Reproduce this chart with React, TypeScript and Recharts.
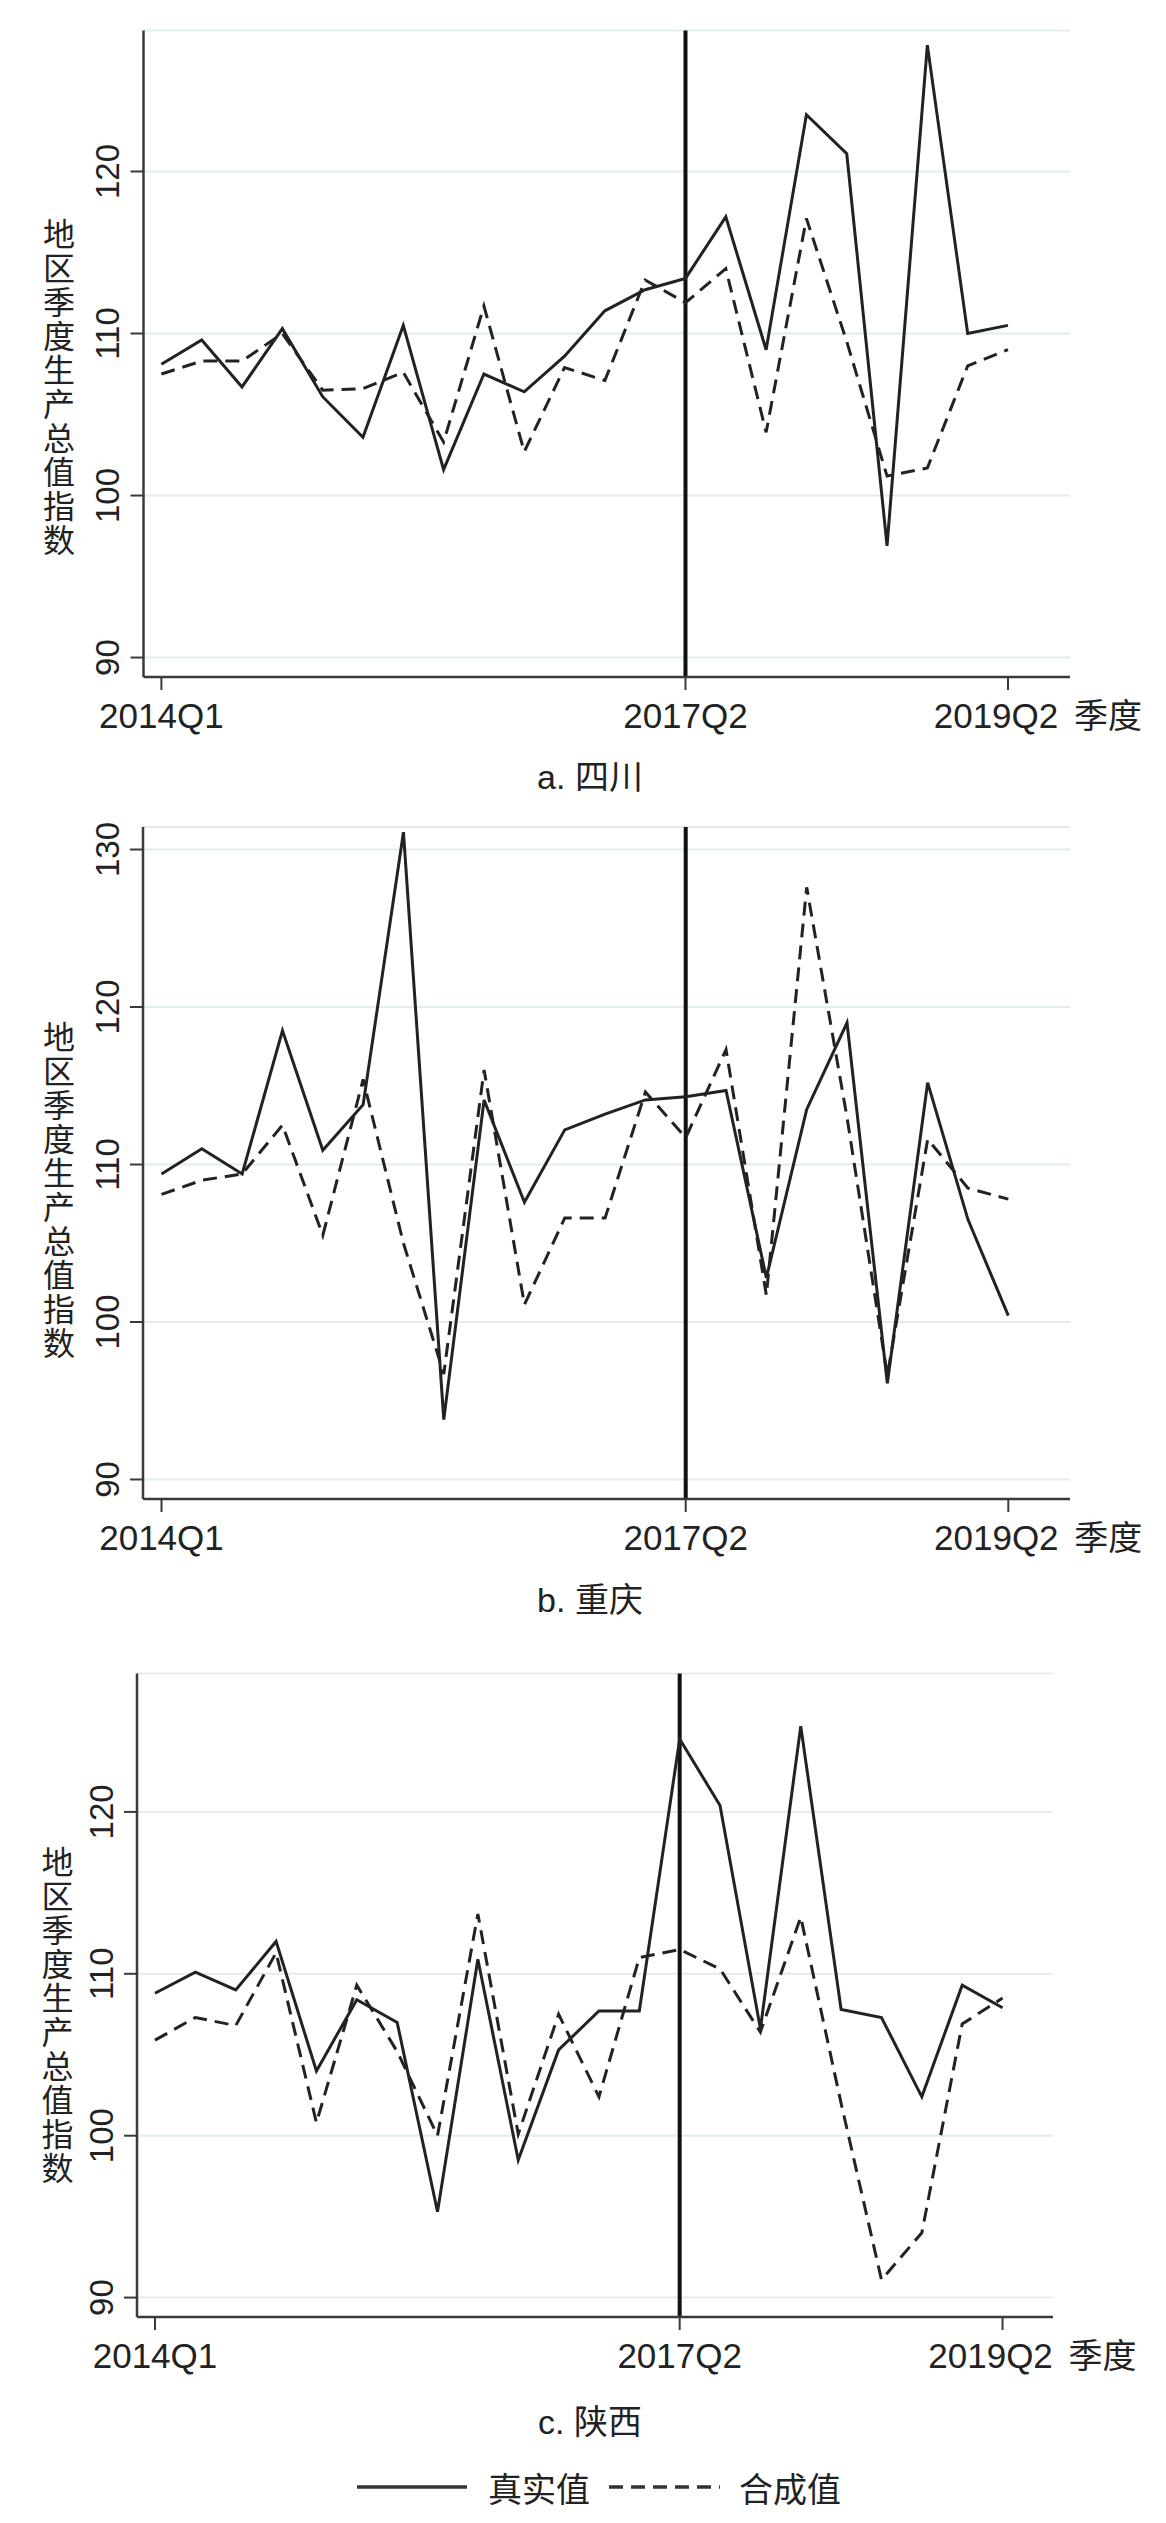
import React from 'react';
import { LineChart, Line, XAxis, YAxis, CartesianGrid, ReferenceLine } from 'recharts';

const FONT = "'Liberation Sans', Arial, 'Noto Sans CJK SC', sans-serif";
const INK = '#222';

// quarters 2014Q1 .. 2019Q2
const quarters = [
  '2014Q1', '2014Q2', '2014Q3', '2014Q4',
  '2015Q1', '2015Q2', '2015Q3', '2015Q4',
  '2016Q1', '2016Q2', '2016Q3', '2016Q4',
  '2017Q1', '2017Q2', '2017Q3', '2017Q4',
  '2018Q1', '2018Q2', '2018Q3', '2018Q4',
  '2019Q1', '2019Q2',
];
const xTicks = [0, 13, 21];
const policyIndex = 13; // 2017Q2

const sichuanActual = [108.1, 109.6, 106.7, 110.3, 106.1, 103.6, 110.5, 101.6, 107.5, 106.4, 108.6, 111.4, 112.7, 113.4, 117.2, 109.0, 123.5, 121.1, 96.9, 127.8, 110.0, 110.5];
const sichuanSynth = [107.5, 108.3, 108.3, 110.0, 106.5, 106.6, 107.6, 103.3, 111.7, 102.7, 107.9, 107.1, 113.3, 111.9, 114.0, 103.9, 117.1, 109.5, 101.2, 101.7, 108.0, 109.0];

const chongqingActual = [109.4, 111.0, 109.4, 118.5, 110.9, 113.8, 131.1, 93.8, 114.1, 107.6, 112.2, 113.2, 114.1, 114.3, 114.7, 102.8, 113.5, 119.0, 96.1, 115.2, 106.5, 100.4];
const chongqingSynth = [108.1, 109.0, 109.4, 112.5, 105.5, 115.4, 105.0, 96.7, 116.0, 101.1, 106.6, 106.6, 114.6, 111.7, 117.3, 101.7, 127.6, 113.0, 96.6, 111.6, 108.5, 107.8];

const shaanxiActual = [108.8, 110.1, 109.0, 112.0, 104.0, 108.4, 107.0, 95.3, 110.9, 98.5, 105.3, 107.7, 107.7, 124.5, 120.4, 106.6, 125.3, 107.8, 107.3, 102.4, 109.3, 107.9];
const shaanxiSynth = [105.9, 107.3, 106.8, 111.3, 100.8, 109.3, 105.2, 100.0, 113.7, 100.1, 107.5, 102.4, 111.0, 111.5, 110.3, 106.4, 113.5, 102.0, 91.1, 94.0, 106.9, 108.5];

const yTicksA = [90, 100, 110, 120];
const yTicksB = [90, 100, 110, 120, 130];
const yTicksC = [90, 100, 110, 120];

const yLabel = '地区季度生产总值指数';

const buildRows = (actual: number[], synth: number[]) =>
  quarters.map((q, i) => ({ i, q, actual: actual[i], synth: synth[i] }));

const XTick = (props: any) => {
  const { x, y, payload } = props;
  const idx = payload.value;
  const last = idx === quarters.length - 1;
  return (
    <g>
      <text x={last ? x - 12 : x} y={y + 36} textAnchor="middle" fontSize={35} fill={INK} fontFamily={FONT}>
        {quarters[idx]}
      </text>
      {last && (
        <text x={x + 66} y={y + 36} textAnchor="start" fontSize={34} fill={INK} fontFamily={FONT}>
          季度
        </text>
      )}
    </g>
  );
};

const YTick = (props: any) => {
  const { x, y, payload } = props;
  const tx = x - 9;
  return (
    <text x={tx} y={y} transform={`rotate(-90, ${tx}, ${y})`} textAnchor="middle" fontSize={33} fill={INK} fontFamily={FONT}>
      {payload.value}
    </text>
  );
};

const makeYLabel = (cxOffset: number, shift: number) => (props: any) => {
  const vb = props.viewBox || { x: 0, y: 0, width: 0, height: 0 };
  const cx = vb.x + cxOffset;
  const top = vb.y + vb.height / 2 + shift - 170;
  return (
    <text textAnchor="middle" fontSize={32} fill={INK} fontFamily={FONT}>
      {yLabel.split('').map((ch, k) => (
        <tspan key={k} x={cx} y={top + 29 + k * 34}>{ch}</tspan>
      ))}
    </text>
  );
};

interface PanelProps {
  top: number;
  height: number;
  marginTop: number;
  marginRight: number;
  yAxisWidth: number;
  xAxisHeight: number;
  xDomain: [number, number];
  yDomain: [number, number];
  yTicks: number[];
  actual: number[];
  synth: number[];
  labelX: number;
  labelShift: number;
}

const Panel: React.FC<PanelProps> = (p) => {
  const data = buildRows(p.actual, p.synth);
  return (
    <div style={{ position: 'absolute', left: 0, top: p.top }}>
      <LineChart
        width={1150}
        height={p.height}
        data={data}
        margin={{ top: p.marginTop, right: p.marginRight, left: 0, bottom: 0 }}
      >
        <CartesianGrid horizontal vertical={false} stroke="#e2ecee" strokeWidth={2} />
        <XAxis
          dataKey="i"
          type="number"
          domain={p.xDomain}
          allowDataOverflow
          ticks={xTicks}
          interval={0}
          height={p.xAxisHeight}
          tickSize={13}
          tick={<XTick />}
          axisLine={{ stroke: '#3a3a3a', strokeWidth: 2.5 }}
          tickLine={{ stroke: '#3a3a3a', strokeWidth: 2 }}
        />
        <YAxis
          type="number"
          domain={p.yDomain}
          allowDataOverflow
          ticks={p.yTicks}
          interval={0}
          width={p.yAxisWidth}
          tickSize={13}
          tick={<YTick />}
          axisLine={{ stroke: '#3a3a3a', strokeWidth: 2.5 }}
          tickLine={{ stroke: '#3a3a3a', strokeWidth: 2 }}
          label={makeYLabel(p.labelX, p.labelShift)}
        />
        <ReferenceLine x={policyIndex} stroke="#111" strokeWidth={4} />
        <Line
          dataKey="actual"
          name="真实值"
          type="linear"
          stroke={INK}
          strokeWidth={3}
          dot={false}
          isAnimationActive={false}
        />
        <Line
          dataKey="synth"
          name="合成值"
          type="linear"
          stroke={INK}
          strokeWidth={3}
          strokeDasharray="14 8"
          dot={false}
          isAnimationActive={false}
        />
      </LineChart>
    </div>
  );
};

const titleStyle = (top: number): React.CSSProperties => ({
  position: 'absolute',
  left: 482,
  top,
  width: 200,
  height: 40,
  lineHeight: '40px',
  textAlign: 'center',
  fontSize: 34,
  fontFamily: FONT,
  color: INK,
});

export default function App() {
  return (
    <div style={{ position: 'relative', width: 1158, height: 2515, background: '#fff', fontFamily: FONT }}>
      <Panel
        top={0}
        height={760}
        marginTop={22.5}
        marginRight={88}
        yAxisWidth={135.5}
        xAxisHeight={91}
        xDomain={[-0.444, 22.538]}
        yDomain={[88.8, 128.7]}
        yTicks={yTicksA}
        actual={sichuanActual}
        synth={sichuanSynth}
        labelX={51}
        labelShift={33}
      />
      <div style={titleStyle(749)}>a. 四川</div>

      <Panel
        top={782}
        height={780}
        marginTop={37}
        marginRight={88}
        yAxisWidth={135}
        xAxisHeight={71}
        xDomain={[-0.459, 22.53]}
        yDomain={[88.76, 131.43]}
        yTicks={yTicksB}
        actual={chongqingActual}
        synth={chongqingSynth}
        labelX={51}
        labelShift={27}
      />
      <div style={titleStyle(1572)}>b. 重庆</div>

      <Panel
        top={1632}
        height={760}
        marginTop={33.5}
        marginRight={105}
        yAxisWidth={129}
        xAxisHeight={83}
        xDomain={[-0.446, 22.25]}
        yDomain={[88.8, 128.55]}
        yTicks={yTicksC}
        actual={shaanxiActual}
        synth={shaanxiSynth}
        labelX={49.5}
        labelShift={20}
      />
      <div style={titleStyle(2394)}>c. 陕西</div>

      <div
        style={{
          position: 'absolute',
          left: 349,
          top: 2459,
          height: 40,
          display: 'flex',
          alignItems: 'center',
          fontSize: 34,
          fontFamily: FONT,
          color: INK,
        }}
      >
        <svg width={110} height={8}>
          <line x1={0} y1={4} x2={110} y2={4} stroke="#333" strokeWidth={3.5} />
        </svg>
        <span style={{ marginLeft: 21 }}>真实值</span>
        <svg width={111} height={8} style={{ marginLeft: 19 }}>
          <line x1={0} y1={4} x2={111} y2={4} stroke="#333" strokeWidth={3.5} strokeDasharray="14 8" />
        </svg>
        <span style={{ marginLeft: 19 }}>合成值</span>
      </div>
    </div>
  );
}
